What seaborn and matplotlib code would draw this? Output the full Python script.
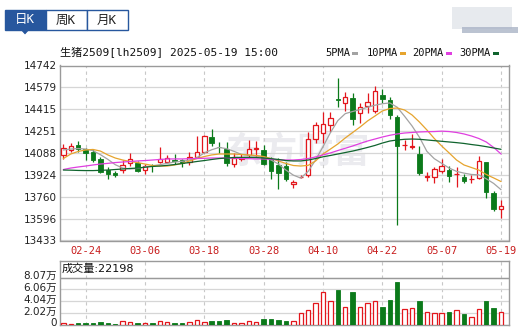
import numpy as np
import matplotlib
matplotlib.use('Agg')
import matplotlib.pyplot as plt
import matplotlib.transforms as mtransforms
from matplotlib.patches import Rectangle, Polygon
import seaborn as sns

dates = ['02-19', '02-20', '02-21', '02-24', '02-25', '02-26', '02-27', '02-28',
         '03-03', '03-04', '03-05', '03-06', '03-07', '03-10', '03-11', '03-12',
         '03-13', '03-14', '03-17', '03-18', '03-19', '03-20', '03-21', '03-24',
         '03-25', '03-26', '03-27', '03-28', '03-31', '04-01', '04-02', '04-03',
         '04-07', '04-08', '04-09', '04-10', '04-11', '04-14', '04-15', '04-16',
         '04-17', '04-18', '04-21', '04-22', '04-23', '04-24', '04-25', '04-28',
         '04-29', '04-30', '05-06', '05-07', '05-08', '05-09', '05-12', '05-13',
         '05-14', '05-15', '05-16', '05-19']

opens = [14073, 14110, 14147, 14115, 14097, 14043, 13960, 13936, 13960, 14010,
         14015, 13960, 13993, 14022, 14022, 14035, 14035, 14018, 14060, 14097,
         14205, 14135, 14115, 14003, 14045, 14073, 14120, 14110, 14040, 13998,
         13990, 13856, 13905, 13924, 14192, 14235, 14297, 14490, 14459, 14497,
         14384, 14439, 14402, 14521, 14484, 14354, 14145, 14133, 14078, 13908,
         13906, 13953, 13960, 13928, 13910, 13892, 13898, 14018, 13786, 13669]
highs = [14155, 14165, 14177, 14123, 14115, 14060, 13980, 13953, 14035, 14085,
         14027, 14003, 14005, 14130, 14073, 14080, 14045, 14097, 14217, 14222,
         14267, 14172, 14172, 14085, 14080, 14185, 14177, 14147, 14060, 14048,
         14022, 13886, 13924, 14247, 14322, 14397, 14392, 14646, 14542, 14534,
         14464, 14534, 14589, 14564, 14504, 14372, 14185, 14230, 14140, 13948,
         13985, 14040, 13990, 13980, 13930, 13924, 14065, 14022, 13803, 13736]
lows = [14043, 14097, 14097, 14035, 14022, 13936, 13891, 13906, 13936, 13990,
        13947, 13930, 13947, 14015, 14010, 14005, 13980, 13998, 14055, 14090,
        14142, 14085, 13990, 13985, 14030, 14060, 14060, 13998, 13891, 13816,
        13880, 13823, 13898, 13910, 14160, 14160, 14247, 14434, 14404, 14297,
        14310, 14384, 14384, 14464, 14340, 13549, 14110, 14115, 13921, 13880,
        13865, 13936, 13873, 13831, 13865, 13860, 13891, 13749, 13656, 13604]
closes = [14125, 14142, 14115, 14085, 14035, 13943, 13930, 13924, 13998, 14043,
          13955, 13990, 13988, 14040, 14052, 14025, 14010, 14060, 14093, 14215,
          14160, 14130, 14010, 14048, 14050, 14115, 14125, 14005, 13953, 13940,
          13891, 13868, 13910, 14190, 14297, 14302, 14347, 14483, 14509, 14340,
          14434, 14467, 14553, 14489, 14372, 14142, 14150, 14138, 13940, 13913,
          13968, 13990, 13918, 13933, 13880, 13895, 14028, 13794, 13669, 13694]
vols = [3500, 2300, 4000, 4000, 4000, 5800, 4000, 2300, 7500, 5800,
        4000, 4000, 4000, 7500, 5800, 4000, 4000, 5800, 8600, 5800,
        7500, 7500, 9200, 4000, 4000, 6300, 5800, 10900, 10900, 9200,
        6300, 7500, 20200, 25900, 36900, 55900, 40300, 59300, 31100, 55900,
        31100, 36900, 40300, 30000, 42000, 73360, 27600, 28200, 40300, 23000,
        21300, 21300, 23000, 25900, 19600, 13800, 27600, 40300, 28200, 22198]

ma5 = [14110, 14117, 14121, 14117, 14105, 14075, 14040, 14000, 13975, 13968,
       13972, 13983, 13992, 14000, 14010, 14020, 14025, 14035, 14052, 14088,
       14112, 14129, 14120, 14100, 14077, 14070, 14065, 14058, 14035, 14005,
       13960, 13922, 13900, 13950, 14035, 14135, 14240, 14330, 14382, 14398,
       14412, 14430, 14445, 14456, 14462, 14430, 14362, 14290, 14205, 14100,
       14045, 14010, 13975, 13950, 13937, 13927, 13924, 13895, 13860, 13813]
ma10 = [14046, 14080, 14099, 14110, 14114, 14102, 14073, 14050, 14035, 14024,
        14016, 14005, 13994, 13990, 13990, 13998, 14009, 14028, 14046, 14061,
        14073, 14080, 14080, 14080, 14076, 14073, 14069, 14061, 14046, 14028,
        14009, 13994, 13990, 13995, 14028, 14080, 14117, 14155, 14200, 14241,
        14282, 14327, 14364, 14402, 14420, 14424, 14409, 14372, 14319, 14260,
        14196, 14140, 14088, 14035, 13998, 13979, 13960, 13927, 13901, 13874]
ma20 = [13964, 13975, 13983, 13990, 13998, 14005, 14010, 14016, 14020, 14024,
        14028, 14031, 14035, 14039, 14043, 14043, 14043, 14045, 14046, 14048,
        14050, 14050, 14050, 14049, 14046, 14045, 14043, 14043, 14040, 14037,
        14035, 14035, 14039, 14046, 14058, 14073, 14088, 14106, 14123, 14140,
        14159, 14177, 14192, 14207, 14220, 14230, 14237, 14241, 14245, 14247,
        14248, 14251, 14248, 14241, 14230, 14215, 14196, 14170, 14129, 14080]
ma30 = [13960, 13959, 13957, 13956, 13956, 13958, 13960, 13964, 13968, 13972,
        13975, 13981, 13987, 13990, 13995, 14001, 14009, 14016, 14024, 14031,
        14039, 14046, 14050, 14054, 14055, 14055, 14054, 14050, 14045, 14039,
        14031, 14028, 14028, 14035, 14046, 14059, 14069, 14080, 14091, 14102,
        14115, 14129, 14144, 14162, 14177, 14185, 14190, 14192, 14190, 14185,
        14180, 14175, 14170, 14165, 14159, 14151, 14144, 14135, 14125, 14115]

price_ticks = [13433, 13596, 13760, 13924, 14088, 14251, 14415, 14579, 14742]
vol_ticks = [0, 20200, 40400, 60600, 80700]
vol_tick_labels = ['0', '2.02万', '4.04万', '6.06万', '8.07万']
ma_names = ['5PMA', '10PMA', '20PMA', '30PMA']
tabs = ['日K', '周K', '月K']
title = '生猪2509[lh2509] 2025-05-19 15:00'

RED = '#e3161c'
GREEN = '#0b7a1a'
BLUE = '#27579e'
ma_colors = ['#a3a3a3', '#e6a42e', '#e03fe0', '#10642e']
SPINE = '#9a9a9a'

sns.set_style('white')
plt.rcParams['font.family'] = ['DejaVu Sans', 'Noto Sans CJK SC']
MONO = ['DejaVu Sans Mono', 'Noto Sans CJK SC']

W, H = 518, 331
fig = plt.figure(figsize=(W / 100, H / 100), dpi=100)
fig.patch.set_facecolor('white')

def frac(x0, y0, x1, y1):
    return [x0 / W, (H - y1) / H, (x1 - x0) / W, (y1 - y0) / H]

ax = fig.add_axes(frac(60, 65.5, 509, 240.5))
axv = fig.add_axes(frac(60, 261, 509, 325))

x = np.arange(len(dates))
o, h, l, c = (np.array(a, dtype=float) for a in (opens, highs, lows, closes))
up = c >= o
cols = np.where(up, RED, GREEN)
top = np.maximum(o, c)
bot = np.minimum(o, c)
hgt = np.maximum(top - bot, 1.0)
bw = 0.6

# candles
ax.vlines(x, top, h, colors=cols, lw=0.9, zorder=3)
ax.vlines(x, l, bot, colors=cols, lw=0.9, zorder=3)
ax.bar(x[up], hgt[up], bottom=bot[up], width=bw, facecolor='white',
       edgecolor=RED, lw=0.9, zorder=3)
ax.bar(x[~up], hgt[~up], bottom=bot[~up], width=bw, facecolor=GREEN,
       edgecolor=GREEN, lw=0.6, zorder=3)

for vals, col in zip([ma5, ma10, ma20, ma30], ma_colors):
    sns.lineplot(x=x, y=vals, ax=ax, color=col, lw=0.9, estimator=None,
                 legend=False, zorder=4)

ax.text(0.53, 0.505, '东方财富', transform=ax.transAxes, ha='center', va='center',
        fontsize=26, fontweight='bold', color='#ebebef', family='Noto Sans CJK SC',
        zorder=0.3)

tick_idx = list(range(3, len(dates), 8))
for a in (ax, axv):
    a.set_xlim(-0.45, 60.07)
    a.set_xticks(tick_idx)
    a.set_axisbelow(True)
    a.xaxis.grid(True, color='#c8c8c8', lw=0.8, ls=(0, (3, 3)))
    a.yaxis.grid(True, color='#d6d6d6', lw=0.9, ls='-')
    for s in a.spines.values():
        s.set_color(SPINE)
        s.set_linewidth(1)
    a.tick_params(length=0)

ax.set_ylim(13433, 14742)
ax.set_yticks(price_ticks)
ax.set_yticklabels([str(t) for t in price_ticks], fontsize=7.5, color='#222222')
ax.set_xticklabels([dates[i] for i in tick_idx], fontsize=7.5, color='#c81e1e',
                   family='DejaVu Sans Mono')
ax.tick_params(axis='y', pad=2.5)
ax.tick_params(axis='x', pad=4)
ax.set_xlabel('')
ax.set_ylabel('')

# volume
v = np.array(vols, dtype=float)
axv.bar(x[up], v[up], width=bw, facecolor='white', edgecolor=RED, lw=0.9, zorder=3)
axv.bar(x[~up], v[~up], width=bw, facecolor=GREEN, edgecolor=GREEN, lw=0.6, zorder=3)
axv.set_ylim(0, 80700 / 0.739)
axv.set_yticks(vol_ticks)
axv.set_yticklabels(vol_tick_labels, fontsize=7.5, color='#222222')
axv.set_xticklabels([])
axv.axhline(vol_ticks[-1], color=SPINE, lw=1, zorder=2)
axv.tick_params(axis='y', pad=2.5)
shift = mtransforms.ScaledTranslation(0, 2.5 / 100, fig.dpi_scale_trans)
for lab in axv.get_yticklabels():
    lab.set_transform(lab.get_transform() + shift)

# overlay in pixel coordinates for header items
ov = fig.add_axes([0, 0, 1, 1], zorder=10)
ov.set_xlim(0, W)
ov.set_ylim(H, 0)
ov.axis('off')

tab_x = [4.5, 45.5, 86.5]
for i, (tx, name) in enumerate(zip(tab_x, tabs)):
    sel = i == 0
    ov.add_patch(Rectangle((tx, 9.5), 41, 20.5, facecolor=BLUE if sel else 'white',
                           edgecolor=BLUE, lw=1))
    ov.text(tx + 20.5, 20, name, ha='center', va='center', fontsize=9,
            color='white' if sel else '#222222', family=MONO)
ov.add_patch(Polygon([(21.5, 30), (28.5, 30), (25, 34)], closed=True,
                     facecolor=BLUE, edgecolor=BLUE, lw=0.5))

ov.add_patch(Rectangle((452, 7), 60, 22, facecolor='#e2e5ea', edgecolor='none', alpha=0.8))
ov.add_patch(Rectangle((462, 27), 56, 6, facecolor='#aab4c6', edgecolor='none', alpha=0.8))

ov.text(60, 52, title, ha='left', va='center', fontsize=8, color='#111111', family=MONO)

leg_text_x = [325, 366.5, 412.5, 459]
leg_box_x = [351.5, 400, 446, 492.5]
for name, col, tx, bx in zip(ma_names, ma_colors, leg_text_x, leg_box_x):
    ov.text(tx, 53, name, ha='left', va='center', fontsize=7.5, color='#111111', family=MONO)
    ov.add_patch(Rectangle((bx, 51.5), 6, 3.5, facecolor=col, edgecolor='none'))

ov.text(62, 269, f'成交量:{vols[-1]}', ha='left', va='center', fontsize=8, color='#111111')

fig.savefig('out.png', dpi=100)
